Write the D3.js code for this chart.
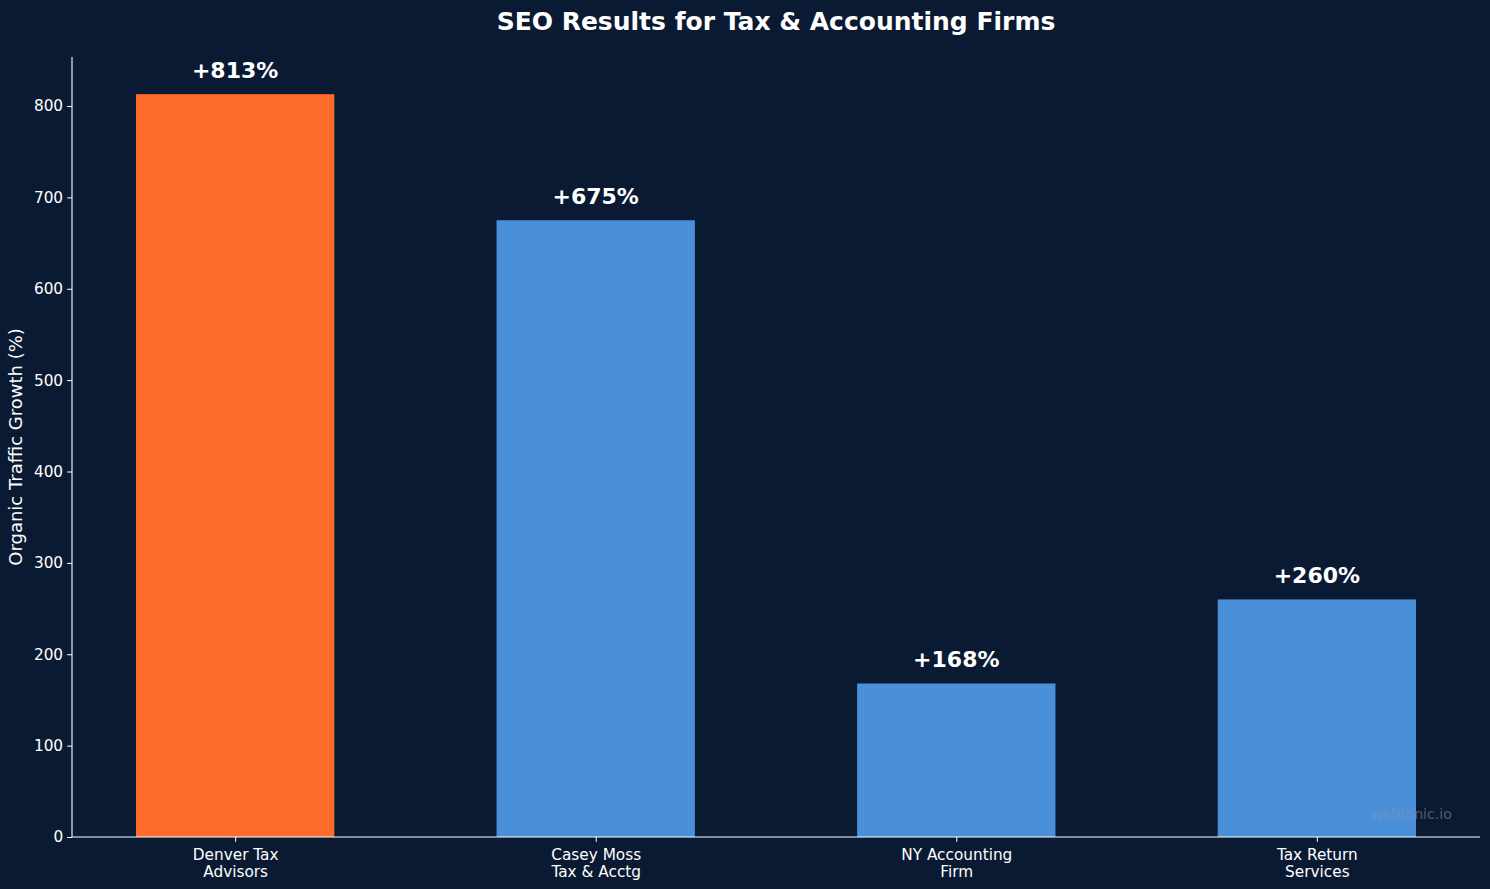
<!DOCTYPE html>
<html>
<head>
<meta charset="utf-8">
<script src="https://cdn.jsdelivr.net/npm/d3@7"></script>
<style>
  html, body { margin: 0; padding: 0; background: #0b1a33; }
  svg { display: block; }
  text { font-family: "DejaVu Sans", sans-serif; }
</style>
</head>
<body>
<svg id="chart" width="1490" height="889"></svg>
<script>
const categories = [["Denver Tax", "Advisors"], ["Casey Moss", "Tax & Acctg"], ["NY Accounting", "Firm"], ["Tax Return", "Services"]];
const values = [813, 675, 168, 260];
const barColors = ["#ff6b2b", "#4a90d9", "#4a90d9", "#4a90d9"];
const yTicks = [0, 100, 200, 300, 400, 500, 600, 700, 800];
const title = "SEO Results for Tax & Accounting Firms";
const yLabel = "Organic Traffic Growth (%)";
const watermark = "webtonic.io";

const W = 1490, H = 889;
const m = { left: 72, right: 10, top: 57, bottom: 52 };
const svg = d3.select("#chart");
svg.append("rect").attr("width", W).attr("height", H).attr("fill", "#0b1a33");

const barW = 0.55;
const x = d3.scaleLinear()
  .domain([-barW / 2 - 0.05 * (3 + barW), 3 + barW / 2 + 0.05 * (3 + barW)])
  .range([m.left, W - m.right]);
const y = d3.scaleLinear()
  .domain([0, d3.max(values) * 1.05])
  .range([H - m.bottom, m.top]);

const g = svg.append("g");

g.selectAll("rect.bar").data(values).join("rect")
  .attr("class", "bar")
  .attr("x", (d, i) => x(i - barW / 2))
  .attr("width", (d, i) => x(i + barW / 2) - x(i - barW / 2))
  .attr("y", d => y(d))
  .attr("height", d => y(0) - y(d))
  .attr("fill", (d, i) => barColors[i]);

g.selectAll("text.val").data(values).join("text")
  .attr("class", "val")
  .attr("x", (d, i) => x(i))
  .attr("y", d => y(d + 18))
  .attr("text-anchor", "middle")
  .attr("fill", "#ffffff")
  .attr("font-weight", "bold")
  .attr("font-size", "22px")
  .text(d => "+" + d + "%");

// y axis
const yAxis = d3.axisLeft(y).tickValues(yTicks).tickSize(4.9).tickPadding(4).tickFormat(d3.format("d"));
const ya = svg.append("g").attr("transform", `translate(${m.left},0)`).call(yAxis);
ya.select(".domain").attr("stroke", "#ffffff").attr("stroke-width", 1.1).attr("d", `M0,${y(0)}V${m.top}`);
ya.selectAll(".tick line").attr("stroke", "#ffffff");
ya.selectAll(".tick text").attr("fill", "#ffffff").attr("font-size", "15.3px").attr("font-family", "DejaVu Sans");

// x axis
const xAxis = d3.axisBottom(x).tickValues(d3.range(categories.length)).tickSize(4.9).tickFormat("");
const xa = svg.append("g").attr("transform", `translate(0,${y(0)})`).call(xAxis);
xa.select(".domain").attr("stroke", "#ffffff").attr("stroke-width", 1.1).attr("d", `M${m.left},0H${W - m.right}`);
xa.selectAll(".tick line").attr("stroke", "#ffffff");
xa.selectAll(".tick").each(function(d, i) {
  const t = d3.select(this).append("text")
    .attr("fill", "#ffffff")
    .attr("font-size", "15.3px")
    .attr("text-anchor", "middle")
    .attr("font-family", "DejaVu Sans")
    .attr("y", 23);
  categories[i].forEach((line, k) => {
    t.append("tspan").attr("x", 0).attr("dy", k === 0 ? 0 : 17.2).text(line);
  });
});

// title
svg.append("text")
  .attr("x", (m.left + W - m.right) / 2)
  .attr("y", 30)
  .attr("text-anchor", "middle")
  .attr("fill", "#ffffff")
  .attr("font-weight", "bold")
  .attr("font-size", "25px")
  .text(title);

// y label
svg.append("text")
  .attr("transform", `translate(22,${(m.top + y(0)) / 2}) rotate(-90)`)
  .attr("text-anchor", "middle")
  .attr("fill", "#ffffff")
  .attr("font-size", "18px")
  .text(yLabel);

// watermark
svg.append("text")
  .attr("x", W - m.right - 28)
  .attr("y", y(0) - 18)
  .attr("text-anchor", "end")
  .attr("fill", "#8a94a6")
  .attr("fill-opacity", 0.55)
  .attr("font-size", "14.2px")
  .text(watermark);
</script>
</body>
</html>
